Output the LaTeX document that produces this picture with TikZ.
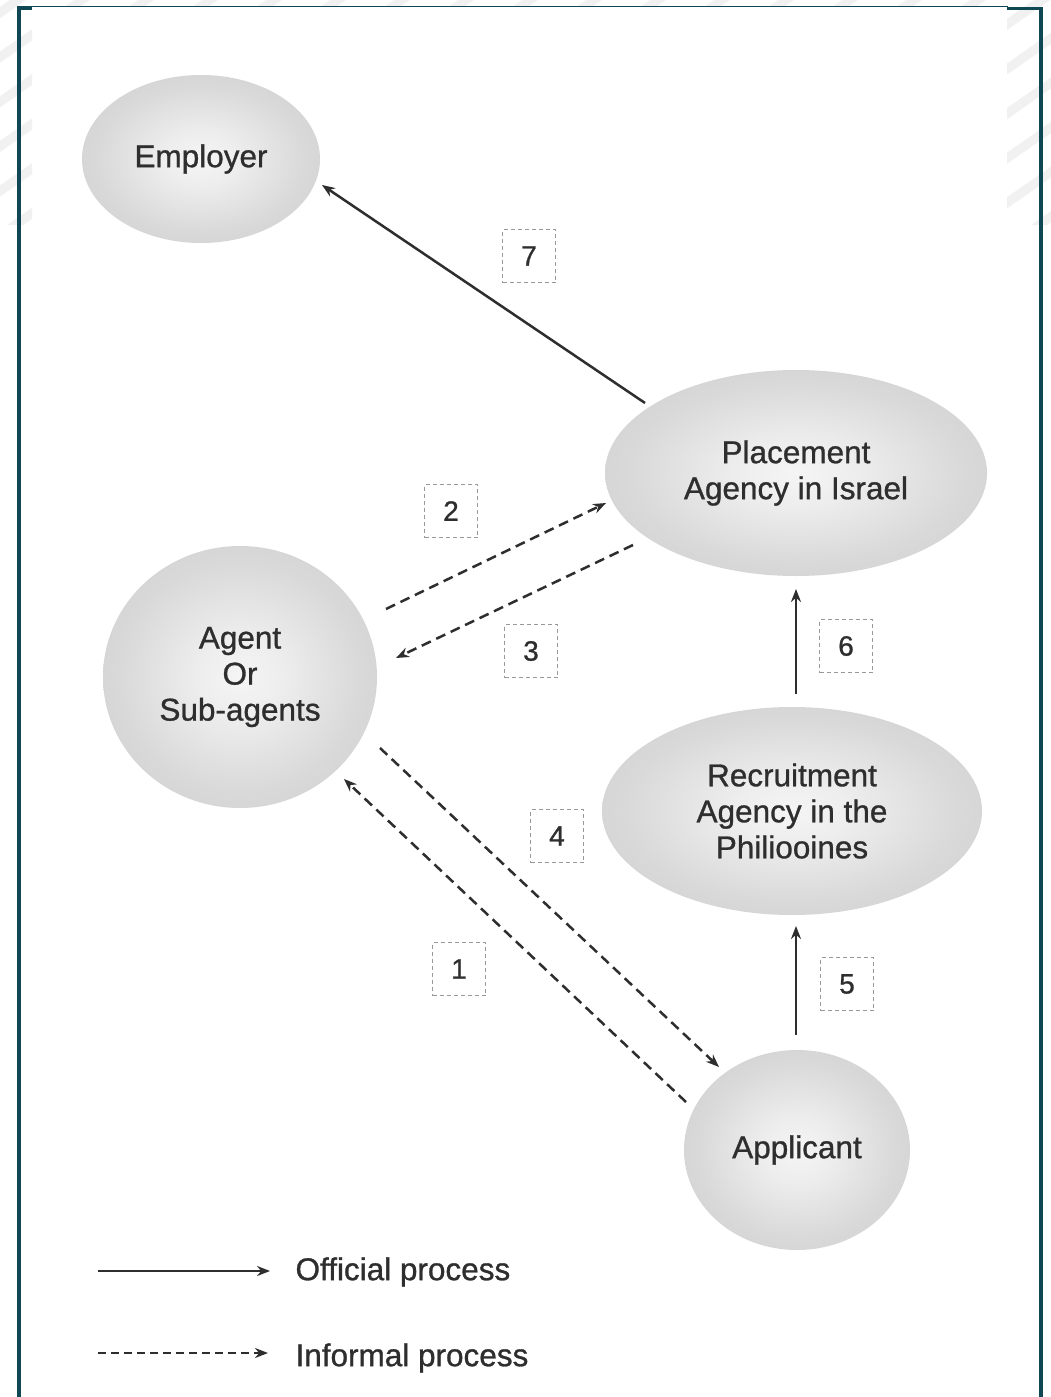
\documentclass[tikz,border=0pt]{standalone}
\usepackage{fontspec}
\setmainfont{Liberation Sans}
\newfontfamily\heavy[FakeBold=0.9]{Liberation Sans}
\usetikzlibrary{shapes.geometric,arrows.meta}
\definecolor{frame}{HTML}{0F4755}
\definecolor{ink}{HTML}{2E2E2E}
\definecolor{stripe}{HTML}{F1F1F1}
\pgfdeclareradialshading{blob}{\pgfpoint{0bp}{0bp}}{color(0bp)=(white!96!black); color(8bp)=(white!93!black); color(22bp)=(white!85!black); color(40bp)=(white!79!black); color(50bp)=(white!78!black)}
\tikzset{
  blobnode/.style={ellipse, shading=blob, draw=none, inner sep=0pt, align=center,
    text=ink, font=\heavy\fontsize{31.5}{36}\selectfont},
  numbox/.style={draw=gray!80, dash pattern=on 4pt off 3pt, line width=1.4pt,
    minimum width=53pt, minimum height=53pt, inner sep=0pt, text=ink,
    font=\heavy\fontsize{28}{30}\selectfont},
  official/.style={draw=ink, line width=2.5pt, -{Stealth[length=13pt,width=10pt]}},
  informal/.style={draw=ink, line width=2.5pt, dash pattern=on 10pt off 6pt, -{Stealth[length=13pt,width=10pt]}},
  legtext/.style={anchor=west, text=ink, font=\heavy\fontsize{31.5}{36}\selectfont},
}
\begin{document}
\begin{tikzpicture}[x=1pt,y=-1pt]
\useasboundingbox (0,0) rectangle (1051,1397);
\fill[white] (0,0) rectangle (1051,1397);
% faint background stripes
\begin{scope}
  \clip (0,0) rectangle (32,225) (1007,0) rectangle (1051,225) (0,0) rectangle (1051,6);
  \foreach \k in {-8,...,22} {
    \fill[stripe] (\k*64,230) -- ++(16,0) -- ++(330,-230) -- ++(-16,0) -- cycle;
  }
\end{scope}
% frame
\fill[frame] (17,6) rectangle (21,1397);
\fill[frame] (17,6) rectangle (32,10);
\draw[frame, line width=1.4pt] (17,6.7) -- (1008,6.7);
\fill[frame] (1007,7) rectangle (1043,10.5);
\fill[frame] (1039,7) rectangle (1043,1397);

% nodes
\node[blobnode, minimum width=238pt, minimum height=168pt] (emp) at (201,159) {Employer};
\node[blobnode, minimum width=382pt, minimum height=206pt] (pla) at (796,473) {Placement\\Agency in Israel};
\node[blobnode, minimum width=274pt, minimum height=262pt] (age) at (240,677) {Agent\\Or\\Sub-agents};
\node[blobnode, minimum width=380pt, minimum height=208pt] (rec) at (792,811) {Recruitment\\Agency in the\\Philiooines};
\node[blobnode, minimum width=226pt, minimum height=200pt] (app) at (797,1150) {Applicant};

% number boxes
\node[numbox] (n7) at (529,256) {7};
\node[numbox] (n2) at (451,511) {2};
\node[numbox] (n3) at (531,651) {3};
\node[numbox] (n6) at (846,646) {6};
\node[numbox] (n4) at (557,836) {4};
\node[numbox] (n1) at (459,969) {1};
\node[numbox] (n5) at (847,984) {5};

% connector end points
\coordinate (p7a) at (645,403);
\coordinate (p7b) at (322,185);
\coordinate (p2a) at (386,609);
\coordinate (p2b) at (606,503);
\coordinate (p3a) at (633,545);
\coordinate (p3b) at (396,658);
\coordinate (p6a) at (796,694);
\coordinate (p6b) at (796,589);
\coordinate (p5a) at (796,1035);
\coordinate (p5b) at (796,926);
\coordinate (p4a) at (380,748);
\coordinate (p4b) at (719,1067);
\coordinate (p1a) at (686,1102);
\coordinate (p1b) at (344,779);

\draw[official] (p7a) -- (p7b);
\draw[informal] (p2a) -- (p2b);
\draw[informal] (p3a) -- (p3b);
\draw[official] (p6a) -- (p6b);
\draw[official] (p5a) -- (p5b);
\draw[informal] (p4a) -- (p4b);
\draw[informal] (p1a) -- (p1b);

% legend
\coordinate (l1a) at (98,1271);
\coordinate (l1b) at (270,1271);
\coordinate (l2a) at (98,1353);
\coordinate (l2b) at (268,1353);
\draw[official, line width=2.2pt] (l1a) -- (l1b);
\draw[informal, line width=2.2pt, dash pattern=on 8pt off 5pt] (l2a) -- (l2b);
\node[legtext] (lt1) at (292,1272) {Official process};
\node[legtext] (lt2) at (292,1358) {Informal process};
\end{tikzpicture}
\end{document}
